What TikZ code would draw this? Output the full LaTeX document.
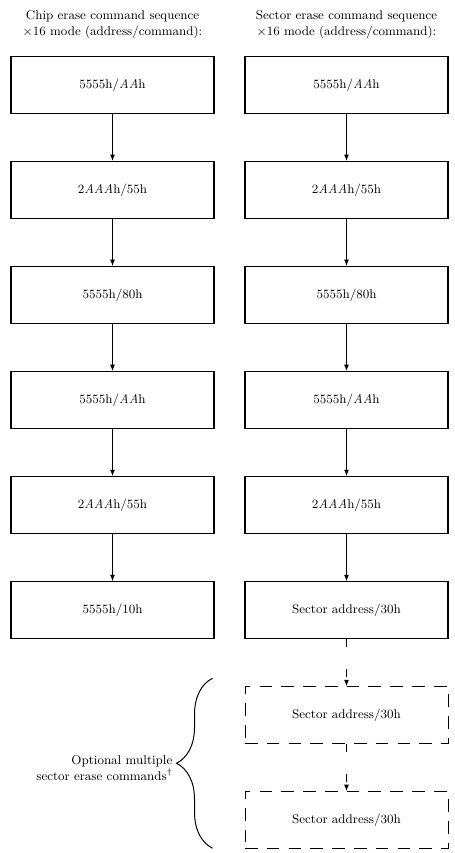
\documentclass[tikz,border=0pt]{standalone}
\usetikzlibrary{positioning,arrows.meta,decorations.pathreplacing}

\tikzset{
    cmdbox/.style={draw, rectangle, minimum width=5.075cm, minimum height=1.425cm, align=center, font=\small, line width=0.9pt},
    optbox/.style={cmdbox, line width=0.7pt, dash pattern=on 9pt off 6.5pt},
    nextcmd/.style={-{Latex[length=4.5pt,width=3.5pt]}, line width=0.7pt},
    optcmd/.style={nextcmd, dash pattern=on 0.2cm off 0.55cm},
    headtext/.style={align=center, font=\small},
}

\begin{document}
\begin{tikzpicture}[node distance=1.17cm]
    \useasboundingbox (0,0) rectangle (11.375,-21.325);

    % headings
    \node[headtext] (chiphead) at (2.8125,-0.62) {Chip erase command sequence\\$\times$16 mode (address/command):};
    \node[headtext] (secthead) at (8.6625,-0.62) {Sector erase command sequence\\$\times$16 mode (address/command):};

    % chip erase
    \node[cmdbox] (c1) at (2.8125,-2.125) {5555h/\textit{AA}h};
    \node[cmdbox, below=of c1] (c2) {2\textit{AAA}h/55h};
    \node[cmdbox, below=of c2] (c3) {5555h/80h};
    \node[cmdbox, below=of c3] (c4) {5555h/\textit{AA}h};
    \node[cmdbox, below=of c4] (c5) {2\textit{AAA}h/55h};
    \node[cmdbox, below=of c5] (c6) {5555h/10h};

    % sector erase
    \node[cmdbox] (s1) at (8.6625,-2.125) {5555h/\textit{AA}h};
    \node[cmdbox, below=of s1] (s2) {2\textit{AAA}h/55h};
    \node[cmdbox, below=of s2] (s3) {5555h/80h};
    \node[cmdbox, below=of s3] (s4) {5555h/\textit{AA}h};
    \node[cmdbox, below=of s4] (s5) {2\textit{AAA}h/55h};
    \node[cmdbox, below=of s5] (s6) {Sector address/30h};
    \node[optbox, below=of s6] (o1) {Sector address/30h};
    \node[optbox, below=of o1] (o2) {Sector address/30h};

    \foreach \a/\b in {c1/c2, c2/c3, c3/c4, c4/c5, c5/c6, s1/s2, s2/s3, s3/s4, s4/s5, s5/s6}
        \draw[nextcmd] (\a) -- (\b);
    \draw[optcmd] (s6) -- (o1);
    \draw[optcmd] (o1) -- (o2);

    % optional part
    \draw[line width=0.7pt, decorate, decoration={brace, amplitude=0.9cm}]
        ([xshift=-0.8cm,yshift=0.02cm]o2.south west) -- ([xshift=-0.8cm,yshift=0.2cm]o1.north west);
    \node[align=right, anchor=east, font=\small, inner sep=1pt] (optnote) at (4.35,-19.2) {Optional multiple\\sector erase commands$^\dagger$};
\end{tikzpicture}
\end{document}
